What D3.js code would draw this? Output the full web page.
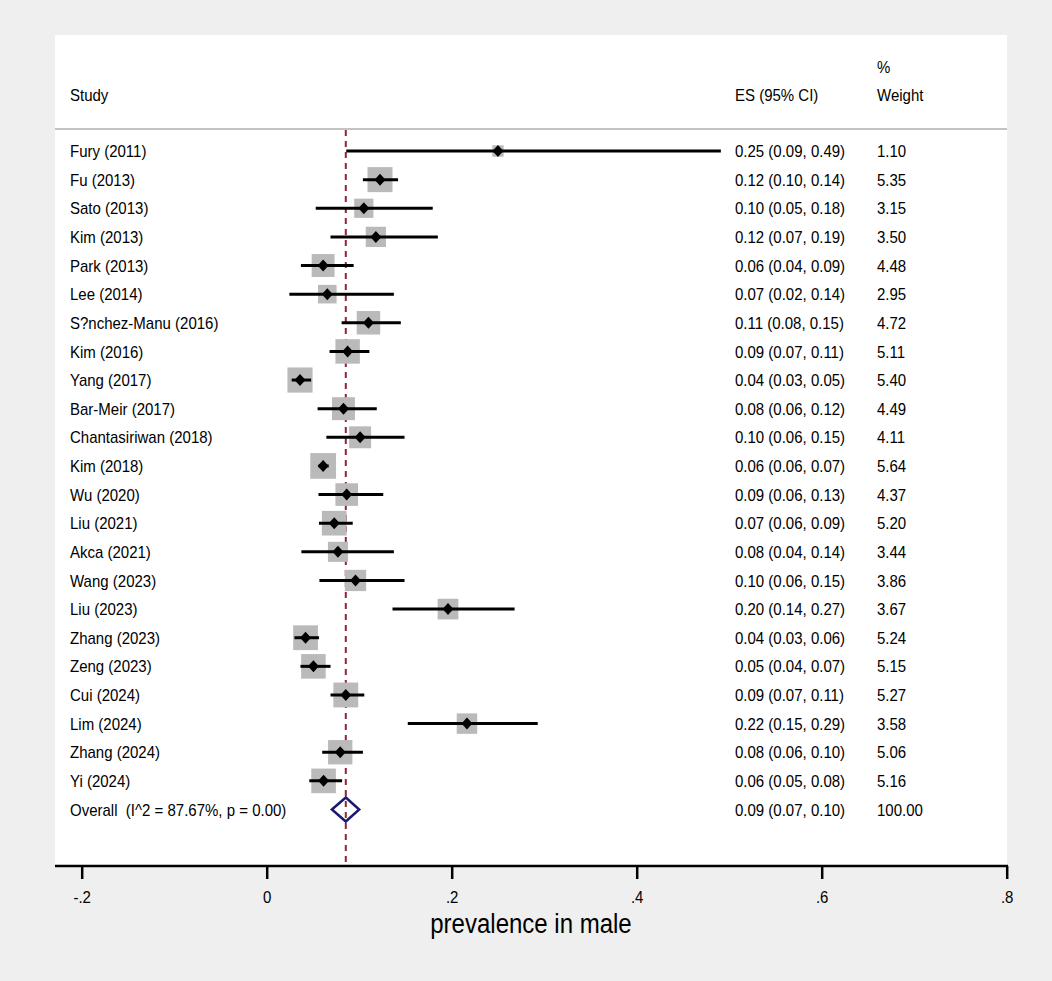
<!DOCTYPE html>
<html>
<head>
<meta charset="utf-8">
<script src="https://cdn.jsdelivr.net/npm/d3@7"></script>
<style>
  html, body { margin: 0; padding: 0; background: #efefef; }
  svg { display: block; font-family: "Liberation Sans", Arial, sans-serif; }
  text { white-space: pre; }
</style>
</head>
<body>
<script>
'use strict';

let WIDTH = 1052;
let HEIGHT = 981;
let PLOT_LEFT = 55;
let PLOT_RIGHT = 1007;
let PLOT_TOP = 35;
let AXIS_Y = 866;
let FONT = 15;
// the source picture's glyphs are taller than they are wide
let STRETCH = 1.13;

// study rows
let studies = ['Fury (2011)', 'Fu (2013)', 'Sato (2013)', 'Kim (2013)', 'Park (2013)', 'Lee (2014)',
    'S?nchez-Manu (2016)', 'Kim (2016)', 'Yang (2017)', 'Bar-Meir (2017)', 'Chantasiriwan (2018)',
    'Kim (2018)', 'Wu (2020)', 'Liu (2021)', 'Akca (2021)', 'Wang (2023)', 'Liu (2023)',
    'Zhang (2023)', 'Zeng (2023)', 'Cui (2024)', 'Lim (2024)', 'Zhang (2024)', 'Yi (2024)'];
let esVals = [0.250, 0.1225, 0.105, 0.118, 0.061, 0.0655, 0.110, 0.0875, 0.036, 0.083, 0.101,
    0.061, 0.0865, 0.073, 0.077, 0.096, 0.196, 0.042, 0.0505, 0.0855, 0.2165, 0.0795, 0.0615];
let loVals = [0.086, 0.104, 0.053, 0.069, 0.037, 0.0245, 0.081, 0.068, 0.027, 0.055, 0.0645,
    0.056, 0.056, 0.0565, 0.0375, 0.057, 0.136, 0.030, 0.0365, 0.069, 0.1525, 0.060, 0.046];
let hiVals = [0.491, 0.142, 0.1795, 0.185, 0.094, 0.1375, 0.145, 0.111, 0.048, 0.119, 0.149,
    0.067, 0.126, 0.093, 0.1375, 0.149, 0.268, 0.0565, 0.069, 0.1055, 0.293, 0.104, 0.0815];
let ciLabels = ['0.25 (0.09, 0.49)', '0.12 (0.10, 0.14)', '0.10 (0.05, 0.18)', '0.12 (0.07, 0.19)',
    '0.06 (0.04, 0.09)', '0.07 (0.02, 0.14)', '0.11 (0.08, 0.15)', '0.09 (0.07, 0.11)',
    '0.04 (0.03, 0.05)', '0.08 (0.06, 0.12)', '0.10 (0.06, 0.15)', '0.06 (0.06, 0.07)',
    '0.09 (0.06, 0.13)', '0.07 (0.06, 0.09)', '0.08 (0.04, 0.14)', '0.10 (0.06, 0.15)',
    '0.20 (0.14, 0.27)', '0.04 (0.03, 0.06)', '0.05 (0.04, 0.07)', '0.09 (0.07, 0.11)',
    '0.22 (0.15, 0.29)', '0.08 (0.06, 0.10)', '0.06 (0.05, 0.08)'];
let weights = [1.10, 5.35, 3.15, 3.50, 4.48, 2.95, 4.72, 5.11, 5.40, 4.49, 4.11, 5.64, 4.37,
    5.20, 3.44, 3.86, 3.67, 5.24, 5.15, 5.27, 3.58, 5.06, 5.16];

// pooled estimate
let overallLabel = 'Overall  (I^2 = 87.67%, p = 0.00)';
let overallVals = [0.0705, 0.0855, 0.100];
let overallCi = '0.09 (0.07, 0.10)';
let overallWeight = '100.00';

let xTicks = [-0.2, 0, 0.2, 0.4, 0.6, 0.8];
let xTickLabels = ['-.2', '0', '.2', '.4', '.6', '.8'];
let xTitle = 'prevalence in male';

let rows = studies.map((s, i) => ({
    name: s, es: esVals[i], lo: loVals[i], hi: hiVals[i], ci: ciLabels[i], w: weights[i]
}));

let x = d3.scaleLinear().domain([-0.2, 0.8]).range([81.7, 1006.7]);
let y = d3.scalePoint()
    .domain(studies.concat([overallLabel]))
    .range([151, 809.5]);
let box = d3.scaleSqrt().domain([0, 6]).range([0, 26.5]);

// keep each text's width at its measured size but make the glyphs taller
function tallText(sel) {
    sel.each(function() {
        let t = d3.select(this);
        let fs = +t.attr('font-size') || FONT;
        let len = this.getComputedTextLength();
        t.attr('font-size', fs * STRETCH)
            .attr('textLength', len)
            .attr('lengthAdjust', 'spacingAndGlyphs');
    });
}

let svg = d3.select('body')
    .append('svg')
    .attr('width', WIDTH)
    .attr('height', HEIGHT);

svg.append('rect')
    .attr('width', WIDTH).attr('height', HEIGHT)
    .attr('fill', '#efefef');

svg.append('rect')
    .attr('x', PLOT_LEFT).attr('y', PLOT_TOP)
    .attr('width', PLOT_RIGHT - PLOT_LEFT)
    .attr('height', AXIS_Y - PLOT_TOP)
    .attr('fill', '#ffffff');

// column headers
let header = svg.append('g').attr('fill', '#000');
header.append('text').attr('x', 70).attr('y', 101).attr('font-size', FONT).text('Study');
header.append('text').attr('x', 735).attr('y', 101).attr('font-size', FONT).text('ES (95% CI)');
header.append('text').attr('x', 877).attr('y', 73).attr('font-size', FONT).text('%');
header.append('text').attr('x', 877).attr('y', 101).attr('font-size', FONT).text('Weight');

svg.append('line')
    .attr('x1', PLOT_LEFT).attr('x2', PLOT_RIGHT)
    .attr('y1', 129).attr('y2', 129)
    .attr('stroke', '#c4c4c4')
    .attr('stroke-width', 2);

// pooled effect reference line
svg.append('line')
    .attr('x1', x(overallVals[1])).attr('x2', x(overallVals[1]))
    .attr('y1', 130).attr('y2', AXIS_Y)
    .attr('stroke', '#8e2436')
    .attr('stroke-width', 2)
    .attr('stroke-dasharray', '6,5');

let studyG = svg.selectAll('.study')
    .data(rows)
    .enter()
    .append('g')
    .attr('class', 'study')
    .attr('transform', (d) => 'translate(0,' + y(d.name) + ')');

studyG.append('rect')
    .attr('x', (d) => x(d.es) - box(d.w) / 2)
    .attr('y', (d) => -box(d.w) / 2)
    .attr('width', (d) => box(d.w))
    .attr('height', (d) => box(d.w))
    .attr('fill', '#bababa');

studyG.append('line')
    .attr('x1', (d) => x(d.lo))
    .attr('x2', (d) => x(d.hi))
    .attr('stroke', '#000')
    .attr('stroke-width', 3);

studyG.append('path')
    .attr('d', (d) => {
        let cx = x(d.es);
        return 'M' + (cx - 5.5) + ',0L' + cx + ',-6L' + (cx + 5.5) + ',0L' + cx + ',6Z';
    })
    .attr('fill', '#000');

studyG.append('text')
    .attr('x', 70).attr('dy', '0.36em')
    .attr('font-size', FONT)
    .text((d) => d.name);

studyG.append('text')
    .attr('x', 735).attr('dy', '0.36em')
    .attr('font-size', FONT)
    .text((d) => d.ci);

studyG.append('text')
    .attr('x', 877).attr('dy', '0.36em')
    .attr('font-size', FONT)
    .text((d) => d.w.toFixed(2));

// overall row
let oy = y(overallLabel);
let overallG = svg.append('g').attr('transform', 'translate(0,' + oy + ')');
overallG.append('path')
    .attr('d', 'M' + x(overallVals[0]) + ',0L' + x(overallVals[1]) + ',-12L' +
        x(overallVals[2]) + ',0L' + x(overallVals[1]) + ',12Z')
    .attr('fill', 'none')
    .attr('stroke', '#1b1b6e')
    .attr('stroke-width', 2.5);
overallG.append('text').attr('x', 70).attr('dy', '0.36em').attr('font-size', FONT).text(overallLabel);
overallG.append('text').attr('x', 735).attr('dy', '0.36em').attr('font-size', FONT).text(overallCi);
overallG.append('text').attr('x', 877).attr('dy', '0.36em').attr('font-size', FONT).text(overallWeight);

// x axis
let xAxis = d3.axisBottom(x)
    .tickValues(xTicks)
    .tickSize(13)
    .tickPadding(12)
    .tickFormat((d, i) => xTickLabels[i]);

let axisG = svg.append('g')
    .attr('transform', 'translate(0,' + AXIS_Y + ')')
    .call(xAxis);
axisG.select('.domain').remove();
axisG.selectAll('.tick line').attr('stroke', '#000').attr('stroke-width', 2.5);
axisG.selectAll('.tick text')
    .attr('font-size', FONT)
    .attr('font-family', '"Liberation Sans", Arial, sans-serif')
    .attr('fill', '#000');

svg.append('line')
    .attr('x1', PLOT_LEFT).attr('x2', PLOT_RIGHT + 1)
    .attr('y1', AXIS_Y).attr('y2', AXIS_Y)
    .attr('stroke', '#000')
    .attr('stroke-width', 2.5);

svg.append('text')
    .attr('x', (PLOT_LEFT + PLOT_RIGHT) / 2)
    .attr('y', 933)
    .attr('text-anchor', 'middle')
    .attr('font-size', 24)
    .attr('fill', '#000')
    .text(xTitle);

svg.selectAll('text').call(tallText);
</script>
</body>
</html>
